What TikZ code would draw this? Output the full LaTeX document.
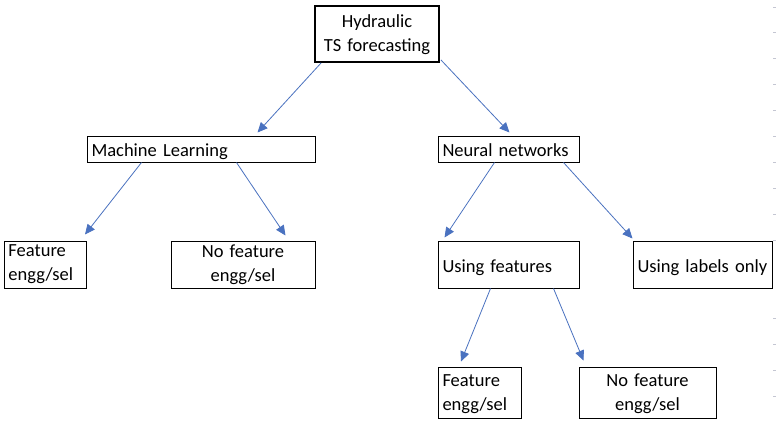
\documentclass[tikz,border=0pt]{standalone}
\usepackage{fontspec}
\setmainfont{Carlito}
\usetikzlibrary{arrows.meta}
\definecolor{arrowblue}{RGB}{74,114,192}
\definecolor{tickgray}{RGB}{196,198,210}
\begin{document}
\begin{tikzpicture}[x=1pt,y=-1pt,
  box/.style={draw=black,line width=1pt,inner xsep=4.5pt,inner ysep=0pt,
    font=\fontsize{18.5}{24}\selectfont,minimum height=#1},
  box/.default=26pt,
  oneline/.style={text height=19.5pt,text depth=4pt},
  arr/.style={draw=arrowblue,line width=0.8pt,-{Triangle[length=10pt,width=9pt]}},
  tick/.style={draw=tickgray,line width=0.8pt}]
\useasboundingbox (0,0) rectangle (776,424);
\fill[white] (0,0) rectangle (776,424);
% faint marks at the right edge
\foreach \yy in {7,32,58,84,110,136,162,188,214,240,318,344,370,396}
  \draw[tick] (773,\yy) -- (776,\yy);
% nodes
\node[box=56pt,line width=1.8pt,text width=115pt,align=center] (top) at (377,34) {\rule{0pt}{15pt}Hydraulic\\TS forecasting};
\node[box,oneline,text width=219pt,align=left] (ml) at (201,149) {Machine Learning};
\node[box,oneline,text width=132pt,align=left] (nn) at (508.5,149) {Neural networks};
\node[box=47pt,text width=74pt,align=left,inner xsep=4pt] (featL) at (45.5,264.5) {Feature\\engg/sel};
\node[box=47pt,text width=135pt,align=center] (nofeatL) at (243,264.5) {No feature\\engg/sel};
\node[box=47pt,oneline,text width=132pt,align=left] (uf) at (508.5,264.5) {Using features};
\node[box=47pt,oneline,text width=130pt,align=left,inner xsep=4.5pt] (ul) at (702.5,264.5) {\mbox{Using labels only}};
\node[box=51pt,text width=75pt,align=left,inner xsep=4pt] (featR) at (480,392.5) {\rule{0pt}{16pt}Feature\\engg/sel};
\node[box=51pt,text width=128pt,align=center] (nofeatR) at (647.5,392.5) {\rule{0pt}{16pt}No feature\\engg/sel};
% connectors
\draw[arr] ([xshift=7pt]top.south west) -- ([xshift=171pt,yshift=3pt]ml.north west);
\draw[arr] ([xshift=1pt,yshift=3pt]top.south east) -- ([xshift=72pt,yshift=3pt]nn.north west);
\draw[arr] ([xshift=55pt]ml.south west) -- ([xshift=81pt,yshift=6pt]featL.north west);
\draw[arr] ([xshift=150pt]ml.south west) -- ([xshift=115pt,yshift=5pt]nofeatL.north west);
\draw[arr] ([xshift=57pt]nn.south west) -- ([xshift=7pt,yshift=3pt]uf.north west);
\draw[arr] ([xshift=126pt]nn.south west) -- ([xshift=0pt,yshift=2pt]ul.north west);
\draw[arr] ([xshift=53pt]uf.south west) -- ([xshift=23pt,yshift=5pt]featR.north west);
\draw[arr] ([xshift=116pt]uf.south west) -- ([xshift=5pt,yshift=6pt]nofeatR.north west);
\end{tikzpicture}
\end{document}
